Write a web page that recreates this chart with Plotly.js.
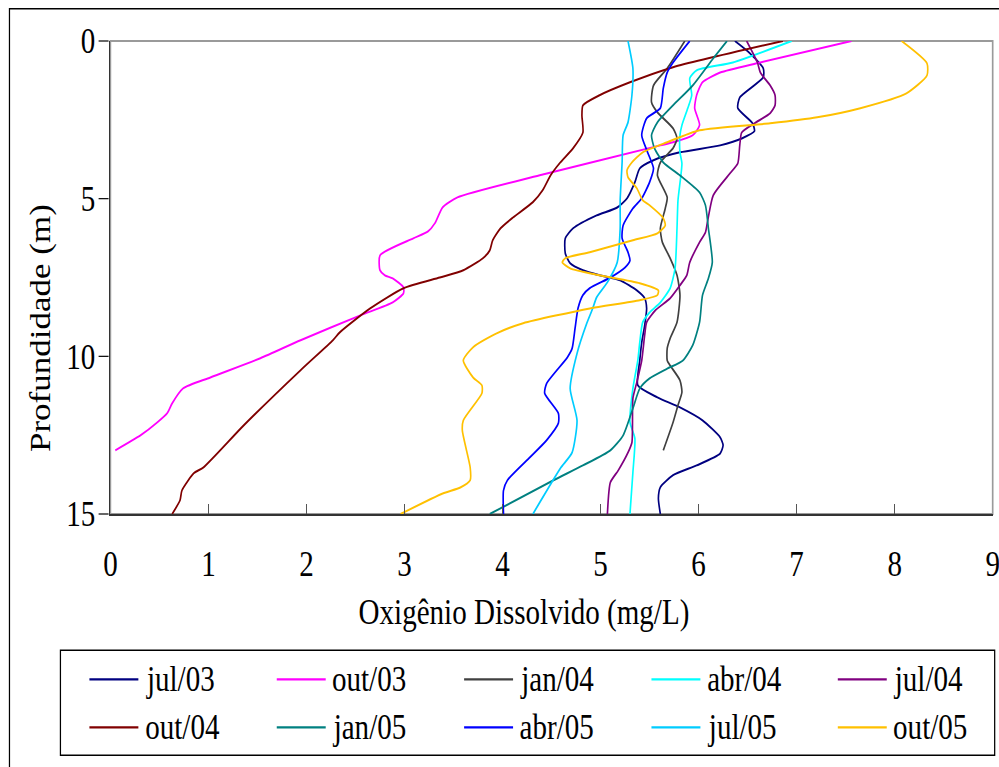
<!DOCTYPE html>
<html><head><meta charset="utf-8">
<script src="https://cdn.plot.ly/plotly-3.0.1.min.js"></script>
<style>
html,body{margin:0;padding:0;overflow:hidden;background:#fff;width:999px;height:767px}
#chart{width:1204px;height:767px;transform:scaleX(0.83);transform-origin:0 0}
</style></head>
<body><div id="chart"></div>
<script>
// ---- data (depth in m, dissolved oxygen in mg/L) ----
const seriesNames = ["jul/03","out/03","jan/04","abr/04","jul/04","out/04","jan/05","abr/05","jul/05","out/05"];
const seriesColors = ["#000080","#FF00FF","#404040","#00FFFF","#800080","#800000","#008080","#0000FF","#00CCFF","#FFC000"];

const jul03Depth = [0,0.38,0.87,1.15,1.79,2.13,2.61,2.86,3.09,3.31,3.53,3.78,4.04,4.48,4.99,5.28,5.53,5.94,6.26,6.73,7.05,7.27,7.43,7.59,7.91,8.16,8.48,9.02,9.56,10.13,10.92,11.30,11.62,12.03,12.57,12.82,13.08,13.46,13.77,14.15,14.5,15];
const jul03DO    = [6.37,6.52,6.66,6.66,6.42,6.40,6.55,6.57,6.44,6.22,5.81,5.54,5.40,5.35,5.27,5.17,4.96,4.72,4.64,4.64,4.69,4.82,4.99,5.20,5.37,5.45,5.47,5.45,5.42,5.40,5.38,5.58,5.81,6.04,6.22,6.25,6.22,5.98,5.74,5.61,5.59,5.61];

const out03Depth = [0,0.68,1.0,1.31,1.72,2.13,2.67,2.99,3.21,3.31,4.26,4.96,5.27,5.78,6.04,6.26,6.8,7.27,7.43,7.53,7.81,8.0,8.29,8.7,9.49,10.06,10.67,11.02,11.49,11.8,12.09,12.5,12.98];
const out03DO    = [7.56,6.63,6.22,6.04,5.98,5.96,6.01,5.94,5.74,5.61,4.38,3.54,3.39,3.31,3.24,3.09,2.75,2.75,2.80,2.88,2.99,2.99,2.88,2.55,1.94,1.53,1.02,0.74,0.63,0.58,0.48,0.31,0.05];

const jan04Depth = [0,0.87,1.41,1.94,2.26,2.77,3.09,3.40,3.85,4.26,4.96,5.31,5.94,6.38,6.89,7.43,8.06,8.92,9.43,9.75,10.13,10.29,10.76,11.14,11.55,12.09,12.98];
const jan04DO    = [5.86,5.68,5.54,5.52,5.58,5.74,5.78,5.74,5.61,5.58,5.68,5.66,5.61,5.63,5.71,5.78,5.81,5.78,5.71,5.68,5.68,5.71,5.81,5.83,5.79,5.74,5.64];

const abr04Depth = [0,0.68,0.93,1.18,1.72,2.13,2.67,2.99,3.53,3.88,5.05,5.94,7.21,7.84,8.29,8.61,8.92,9.56,10.13,11.02,12.09,12.6,13.68,15];
const abr04DO    = [6.95,6.35,5.98,5.91,5.93,5.89,5.83,5.81,5.81,5.83,5.79,5.78,5.76,5.71,5.61,5.50,5.43,5.40,5.38,5.33,5.30,5.35,5.33,5.30];

const jul04Depth = [0,0.68,1.0,1.41,1.72,2.04,2.29,2.61,2.9,3.31,3.88,4.2,4.89,5.75,6.07,6.38,7.02,7.43,7.75,8.16,8.54,8.92,9.33,10.13,10.82,11.33,12.73,13.05,13.62,14.0,15];
const jul04DO    = [6.49,6.60,6.63,6.73,6.78,6.78,6.73,6.57,6.44,6.42,6.40,6.32,6.15,6.09,6.07,6.01,5.91,5.88,5.81,5.71,5.56,5.47,5.45,5.42,5.37,5.33,5.32,5.28,5.18,5.10,5.07];

const out04Depth = [0,0.83,1.31,1.72,2.04,2.36,2.90,3.40,3.85,4.26,4.73,5.11,5.59,5.94,6.32,6.64,6.89,7.27,7.50,7.84,8.48,9.24,9.49,10.44,12.19,13.52,13.71,14.25,14.57,15];
const out04DO    = [6.86,5.74,5.30,4.99,4.82,4.81,4.82,4.72,4.59,4.49,4.41,4.31,4.11,3.98,3.90,3.87,3.80,3.60,3.36,2.99,2.65,2.34,2.27,1.94,1.36,0.95,0.85,0.73,0.71,0.63];

const jan05Depth = [0,0.55,1.41,2.04,2.58,2.99,3.40,3.85,4.26,4.80,5.21,5.94,7.02,7.53,8.06,8.92,9.65,10.13,10.39,10.7,11.02,11.65,12.51,12.98,13.46,13.93,15];
const jan05DO    = [6.29,6.15,5.94,5.74,5.58,5.52,5.55,5.64,5.81,6.01,6.07,6.10,6.14,6.10,6.04,6.01,5.94,5.84,5.68,5.50,5.40,5.33,5.23,5.10,4.82,4.52,3.87];

const abr05Depth = [0,0.68,1.0,1.50,2.13,2.45,2.99,3.53,4.04,4.48,4.99,5.31,5.85,6.26,6.70,6.96,7.18,7.50,7.84,8.06,8.48,9.11,9.75,10.04,10.86,11.17,11.81,12.12,12.66,13.2,13.93,14.25,15];
const abr05DO    = [5.91,5.74,5.68,5.64,5.61,5.47,5.42,5.48,5.54,5.50,5.42,5.33,5.23,5.22,5.28,5.30,5.25,5.10,4.89,4.82,4.77,4.74,4.71,4.66,4.45,4.43,4.57,4.57,4.45,4.28,4.05,4.01,4.01];

const jul05Depth = [0,0.87,1.72,2.58,2.99,3.85,5.05,5.94,7.02,7.65,8.13,8.48,8.95,9.91,11.02,12.03,13.05,13.55,14.63,15];
const jul05DO    = [5.28,5.33,5.32,5.28,5.23,5.22,5.20,5.20,5.17,5.07,4.96,4.92,4.86,4.76,4.69,4.76,4.71,4.59,4.38,4.31];

const out05Depth = [0,0.71,1.09,1.66,2.13,2.42,2.61,2.83,3.21,3.53,3.85,4.10,4.32,4.67,5.05,5.21,5.62,5.85,6.10,6.32,6.70,6.89,7.02,7.21,7.43,7.68,7.91,8.06,8.22,8.48,8.95,9.27,9.71,10.13,10.67,10.92,11.17,12.03,12.35,13.52,13.93,14.16,14.35,15];
const out05DO    = [8.07,8.33,8.33,8.12,7.65,7.21,6.73,6.01,5.68,5.43,5.32,5.27,5.28,5.37,5.43,5.50,5.64,5.66,5.58,5.33,4.89,4.64,4.61,4.69,4.99,5.40,5.59,5.58,5.40,4.89,4.21,3.94,3.70,3.60,3.70,3.79,3.79,3.60,3.59,3.67,3.67,3.57,3.39,2.96];

const xTickVals = [0,1,2,3,4,5,6,7,8,9];
const yTickVals = [0,5,10,15];
const xTitle = "Oxigênio Dissolvido (mg/L)";
const yTitle = "Profundidade (m)";

const depths = [jul03Depth,out03Depth,jan04Depth,abr04Depth,jul04Depth,out04Depth,jan05Depth,abr05Depth,jul05Depth,out05Depth];
const values = [jul03DO,out03DO,jan04DO,abr04DO,jul04DO,out04DO,jan05DO,abr05DO,jul05DO,out05DO];

const FONT = "Liberation Serif, Times New Roman, serif";

const traces = seriesNames.map((n,i)=>({
  type:'scatter', mode:'lines', name:n,
  x: values[i], y: depths[i],
  line:{color:seriesColors[i], width:2, shape:'spline', smoothing:0.6},
  showlegend:false, hoverinfo:'skip'
}));

// paper coordinates (plot area: x 110..993, y 40.7..513.7 in final pixels)
const px = x => (x-110)/883;
const py = y => (513.7-y)/473;

const shapes = [
  {type:'rect', xref:'paper', yref:'paper', x0:0, x1:1, y0:0, y1:1, line:{color:'#9a9a9a', width:2}, layer:'below'},
  {type:'rect', xref:'paper', yref:'paper', x0:px(9), x1:px(1012), y0:py(800), y1:py(8.5), line:{color:'#000', width:1.5}},
  {type:'rect', xref:'paper', yref:'paper', x0:px(60), x1:px(995), y0:py(755), y1:py(650), line:{color:'#000', width:1.5}}
];
const annotations = [
  {xref:'paper', yref:'paper', x:px(524), y:py(612), xanchor:'center', yanchor:'middle', text:xTitle, showarrow:false, font:{family:FONT, size:35, color:'#000'}},
  {xref:'paper', yref:'paper', x:px(40), y:py(328), xanchor:'center', yanchor:'middle', textangle:-90, text:yTitle, showarrow:false, font:{family:FONT, size:35, color:'#000'}}
];
const legCols = [89, 276.5, 464, 651.5, 838];
const legRows = [679, 727];
seriesNames.forEach((n,i)=>{
  const c = legCols[i%5], r = legRows[Math.floor(i/5)];
  shapes.push({type:'line', xref:'paper', yref:'paper', x0:px(c), x1:px(c+49), y0:py(r), y1:py(r), line:{color:seriesColors[i], width:2.2}});
  annotations.push({xref:'paper', yref:'paper', x:px(c+54), y:py(r), xanchor:'left', yanchor:'middle', text:n, showarrow:false, font:{family:FONT, size:35, color:'#000'}});
});

const layout = {
  width:1204, height:767,
  margin:{l:132.5, r:7.6, t:40.7, b:253.3, pad:0},
  paper_bgcolor:'#fff', plot_bgcolor:'#fff',
  font:{family:FONT, size:35, color:'#000'},
  showlegend:false,
  xaxis:{range:[0,9], tickvals:xTickVals, ticktext:xTickVals.map(String), ticks:'inside', ticklen:10, tickwidth:1.6, tickcolor:'#555',
         showline:true, linecolor:'#333', linewidth:2, showgrid:false, zeroline:false, ticklabelstandoff:18, ticklabeloverflow:'allow',
         fixedrange:true},
  yaxis:{range:[15,0], tickvals:yTickVals, ticktext:yTickVals.map(String), ticks:'outside', ticklen:12, tickwidth:1.2, tickcolor:'#000',
         showline:true, linecolor:'#333', linewidth:2.2, showgrid:false, zeroline:false, ticklabeloverflow:'allow', ticklabelstandoff:-3,
         fixedrange:true},
  shapes:shapes, annotations:annotations
};

Plotly.newPlot('chart', traces, layout, {staticPlot:true, displayModeBar:false});
</script></body></html>
